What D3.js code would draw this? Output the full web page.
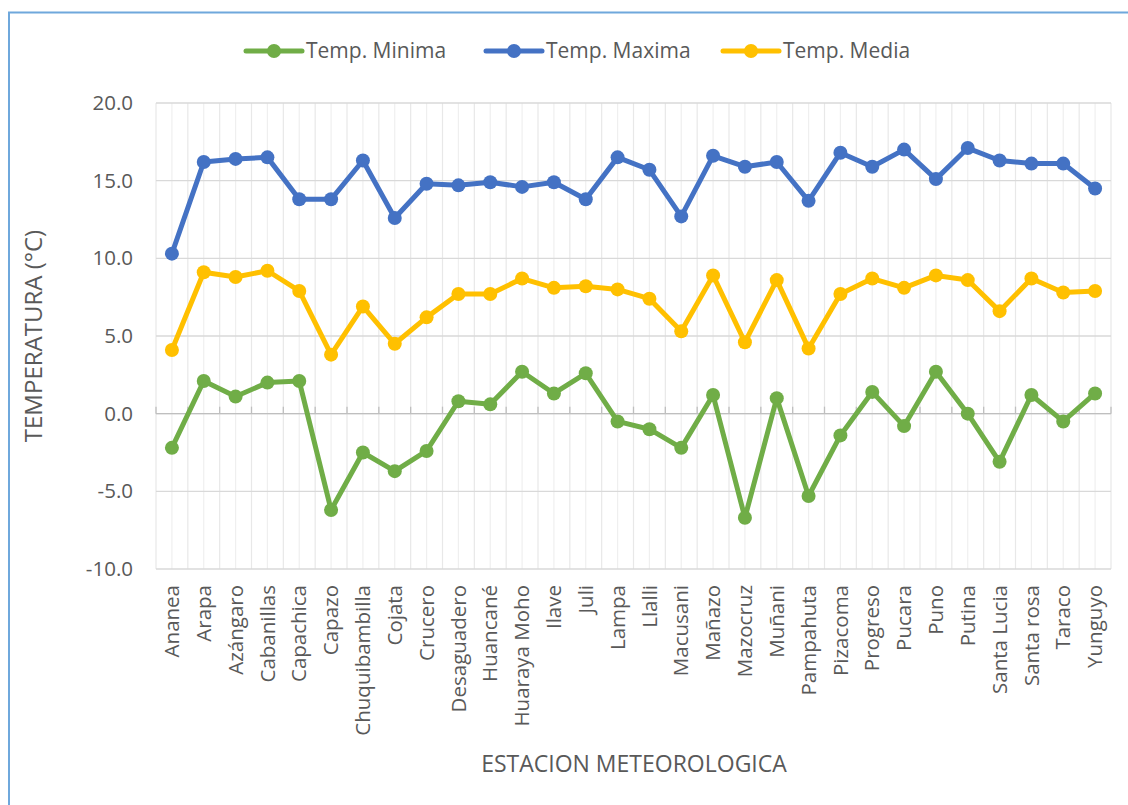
<!DOCTYPE html>
<html>
<head>
<meta charset="utf-8">
<script src="https://cdn.jsdelivr.net/npm/d3@7"></script>
<style>
  body { margin: 0; background: #fff; }
  svg { display: block; font-family: "Open Sans", Lato, sans-serif; }
</style>
</head>
<body>
<div id="chart"></div>
<script>
// stations along the x axis
const stations = ["Ananea", "Arapa", "Azángaro", "Cabanillas", "Capachica", "Capazo",
  "Chuquibambilla", "Cojata", "Crucero", "Desaguadero", "Huancané", "Huaraya Moho",
  "Ilave", "Juli", "Lampa", "Llalli", "Macusani", "Mañazo", "Mazocruz", "Muñani",
  "Pampahuta", "Pizacoma", "Progreso", "Pucara", "Puno", "Putina", "Santa Lucia",
  "Santa rosa", "Taraco", "Yunguyo"];

// values (°C)
const tempMin = [-2.2, 2.1, 1.1, 2.0, 2.1, -6.2, -2.5, -3.7, -2.4, 0.8,
  0.6, 2.7, 1.3, 2.6, -0.5, -1.0, -2.2, 1.2, -6.7, 1.0,
  -5.3, -1.4, 1.4, -0.8, 2.7, 0.0, -3.1, 1.2, -0.5, 1.3];
const tempMax = [10.3, 16.2, 16.4, 16.5, 13.8, 13.8, 16.3, 12.6, 14.8, 14.7,
  14.9, 14.6, 14.9, 13.8, 16.5, 15.7, 12.7, 16.6, 15.9, 16.2,
  13.7, 16.8, 15.9, 17.0, 15.1, 17.1, 16.3, 16.1, 16.1, 14.5];
const tempMedia = [4.1, 9.1, 8.8, 9.2, 7.9, 3.8, 6.9, 4.5, 6.2, 7.7,
  7.7, 8.7, 8.1, 8.2, 8.0, 7.4, 5.3, 8.9, 4.6, 8.6,
  4.2, 7.7, 8.7, 8.1, 8.9, 8.6, 6.6, 8.7, 7.8, 7.9];

const yTicks = [-10, -5, 0, 5, 10, 15, 20];

const series = [
  {name: "Temp. Minima", values: tempMin, color: "#70AD47"},
  {name: "Temp. Maxima", values: tempMax, color: "#4472C4"},
  {name: "Temp. Media", values: tempMedia, color: "#FFC000"}
];

const W = 1128, H = 805;
const plot = {left: 156, right: 1111, top: 103, bottom: 569};
const textColor = "#595959";

const svg = d3.select("#chart").append("svg")
  .attr("width", W)
  .attr("height", H);

// outer chart border
svg.append("rect")
  .attr("x", 9).attr("y", 12.5)
  .attr("width", W + 20).attr("height", H + 20)
  .attr("fill", "white")
  .attr("stroke", "#6FA8DC")
  .attr("stroke-width", 2);

const x = d3.scaleBand()
  .domain(stations)
  .range([plot.left, plot.right]);

const y = d3.scaleLinear()
  .domain([-10, 20])
  .range([plot.bottom, plot.top]);

const cx = function(d) { return x(d) + x.bandwidth() / 2; };

// vertical grid: at category centres and boundaries
const grid = svg.append("g");
stations.forEach(function(s) {
  grid.append("line")
    .attr("x1", cx(s)).attr("x2", cx(s))
    .attr("y1", plot.top).attr("y2", plot.bottom)
    .attr("stroke", "#efefef").attr("stroke-width", 1.2);
});
d3.range(stations.length + 1).forEach(function(i) {
  const xx = plot.left + i * x.bandwidth();
  grid.append("line")
    .attr("x1", xx).attr("x2", xx)
    .attr("y1", plot.top).attr("y2", plot.bottom)
    .attr("stroke", "#e8e8e8").attr("stroke-width", 1.2);
});

// horizontal grid
grid.selectAll(".hgrid")
  .data(yTicks)
  .enter()
  .append("line")
  .attr("x1", plot.left).attr("x2", plot.right)
  .attr("y1", function(d) { return y(d); })
  .attr("y2", function(d) { return y(d); })
  .attr("stroke", "#d9d9d9").attr("stroke-width", 1.3);

// y axis labels (plain hyphen for negatives, like the original)
const fmt = d3.format(".1f");
svg.append("g")
  .attr("transform", `translate(${plot.left - 20},0)`)
  .call(d3.axisLeft(y).tickValues(yTicks).tickSize(0)
    .tickFormat(function(d) { return fmt(d).replace("−", "-"); }))
  .call(function(g) { g.select(".domain").remove(); })
  .selectAll("text")
  .attr("fill", textColor)
  .style("font-family", "\"Open Sans\", Lato, sans-serif")
  .style("font-size", "20.5px");

// x axis line sits at 0, ticks pointing up
const xAxis = svg.append("g");
xAxis.append("line")
  .attr("x1", plot.left).attr("x2", plot.right)
  .attr("y1", y(0)).attr("y2", y(0))
  .attr("stroke", "#bfbfbf").attr("stroke-width", 1.3);
d3.range(stations.length + 1).forEach(function(i) {
  const xx = plot.left + i * x.bandwidth();
  xAxis.append("line")
    .attr("x1", xx).attr("x2", xx)
    .attr("y1", y(0) - 7).attr("y2", y(0))
    .attr("stroke", "#bfbfbf").attr("stroke-width", 1.3);
});

// category labels below the plot, rotated
svg.append("g")
  .selectAll("text")
  .data(stations)
  .enter()
  .append("text")
  .attr("transform", function(d) { return `translate(${cx(d)},${plot.bottom + 16}) rotate(-90)`; })
  .attr("dy", "0.35em")
  .attr("text-anchor", "end")
  .attr("fill", textColor)
  .style("font-size", "20.5px")
  .text(function(d) { return d; });

// axis titles
svg.append("text")
  .attr("transform", `translate(42,${(plot.top + plot.bottom) / 2}) rotate(-90)`)
  .attr("text-anchor", "middle")
  .attr("fill", textColor)
  .style("font-size", "24px")
  .text("TEMPERATURA (°C)");

svg.append("text")
  .attr("x", 634).attr("y", 772)
  .attr("text-anchor", "middle")
  .attr("fill", textColor)
  .style("font-size", "23px")
  .text("ESTACION METEOROLOGICA");

// lines + markers
const line = d3.line()
  .x(function(d, i) { return cx(stations[i]); })
  .y(function(d) { return y(d); });

series.forEach(function(s) {
  const g = svg.append("g");
  g.append("path")
    .datum(s.values)
    .attr("d", line)
    .attr("fill", "none")
    .attr("stroke", s.color)
    .attr("stroke-width", 5)
    .attr("stroke-linejoin", "round");
  g.selectAll("circle")
    .data(s.values)
    .enter()
    .append("circle")
    .attr("cx", function(d, i) { return cx(stations[i]); })
    .attr("cy", function(d) { return y(d); })
    .attr("r", 7)
    .attr("fill", s.color);
});

// legend
const legendX = [246, 486, 723];
const legend = svg.append("g");
series.forEach(function(s, i) {
  const lx = legendX[i];
  legend.append("line")
    .attr("x1", lx).attr("x2", lx + 56)
    .attr("y1", 51).attr("y2", 51)
    .attr("stroke", s.color).attr("stroke-width", 5)
    .attr("stroke-linecap", "round");
  legend.append("circle")
    .attr("cx", lx + 28).attr("cy", 51).attr("r", 7)
    .attr("fill", s.color);
  legend.append("text")
    .attr("x", lx + 60).attr("y", 51)
    .attr("dy", "0.35em")
    .attr("fill", textColor)
    .style("font-size", "21px")
    .text(s.name);
});
</script>
</body>
</html>
